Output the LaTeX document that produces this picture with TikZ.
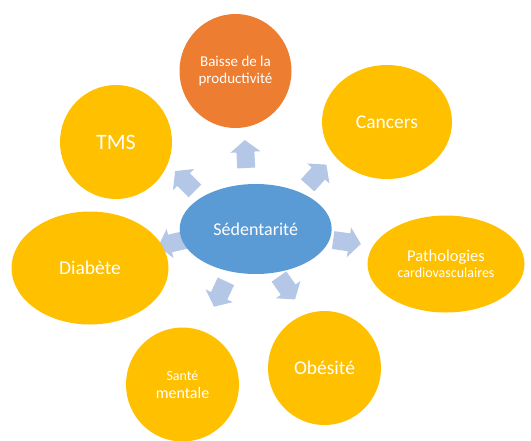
\documentclass[tikz,border=0pt]{standalone}
\usepackage{fontspec}
\setmainfont{Carlito}
\usetikzlibrary{shapes.geometric}
\definecolor{sedblue}{HTML}{5B9BD5}
\definecolor{orng}{HTML}{ED7D31}
\definecolor{yell}{HTML}{FFC000}
\definecolor{arrblue}{HTML}{B4C7E7}
\tikzset{
  bubble/.style={ellipse, inner sep=0pt, text=white, align=center},
  ylw/.style={bubble, fill=yell},
  blockarrow/.style={fill=arrblue},
}
\newcommand\fs[1]{\fontsize{#1}{#1}\selectfont}
\newcommand\barrow[3]{%
  \coordinate (#1) at (#2);
  \begin{scope}[shift={(#1)}, rotate=#3]
    \fill[blockarrow] (-14,-9) -- (2,-9) -- (2,-15) -- (14,0) -- (2,15) -- (2,9) -- (-14,9) -- cycle;
  \end{scope}}
\begin{document}
\begin{tikzpicture}[x=1pt,y=-1pt]
\useasboundingbox (0,0) rectangle (531,440);
% arrows (under the bubbles)
\barrow{a1}{245.5,154}{93}
\barrow{a2}{317,175}{48}
\barrow{a3}{347,242}{-8}
\barrow{a4}{287,288}{-55}
\barrow{a5}{220,294}{-115}
\barrow{a6}{172,243}{-167}
\barrow{a7}{185,181}{135}
% bubbles
\node[bubble, fill=sedblue, minimum width=152pt, minimum height=90pt, font=\fs{18}] (sed) at (255.7,229) {Sédentarité};
\node[bubble, fill=orng, minimum width=112pt, minimum height=114pt, font=\fontsize{15}{17}\selectfont] (baisse) at (235.5,71)
  {Baisse de la\\productivité};
\node[ylw, minimum width=130pt, minimum height=114pt, font=\fs{19.5}] (cancers) at (387,122) {Cancers};
\node[ylw, minimum width=112pt, minimum height=114pt, font=\fs{22}] (tms) at (116,142) {TMS};
\node[ylw, minimum width=157pt, minimum height=113pt, font=\fs{19.5}] (diab) at (90,268) {Diabète};
\node[ylw, minimum width=157pt, minimum height=97pt, font=\fontsize{16.5}{16}\selectfont] (patho) at (446,264)
  {Pathologies\\{\fontsize{14}{16}\selectfont cardiovasculaires}};
\node[ylw, minimum width=113pt, minimum height=114pt, font=\fontsize{14}{18}\selectfont] (obes) at (324.5,368) {\fs{19.5}Obésité};
\node[ylw, minimum width=113pt, minimum height=114pt, font=\fontsize{14}{18}\selectfont] (sante) at (182.5,384.5)
  {Santé\\{\fontsize{16}{18}\selectfont mentale}};
\end{tikzpicture}
\end{document}
